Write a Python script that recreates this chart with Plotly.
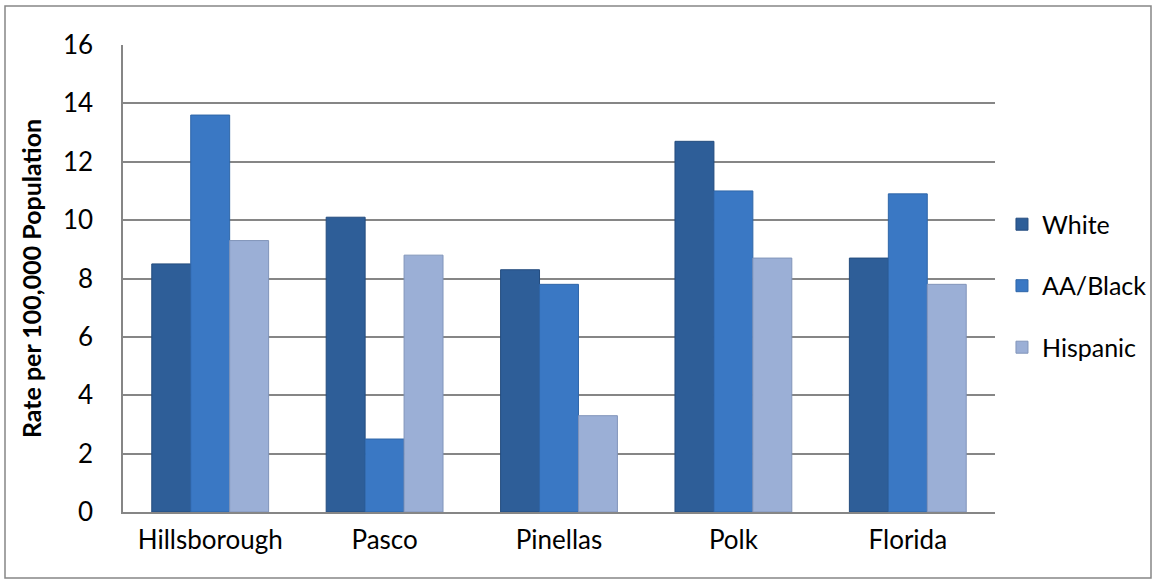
import plotly.graph_objects as go

categories = ["Hillsborough", "Pasco", "Pinellas", "Polk", "Florida"]
white = [8.5, 10.1, 8.3, 12.7, 8.7]
aa_black = [13.6, 2.5, 7.8, 11.0, 10.9]
hispanic = [9.3, 8.8, 3.3, 8.7, 7.8]
series_names = ["White", "AA/Black", "Hispanic"]
y_ticks = [0, 2, 4, 6, 8, 10, 12, 14, 16]

W, H = 1154, 580
ml, mr, mt, mb = 123, 159, 45, 68

colors = ["#2E5E98", "#3A78C4", "#9BAFD6"]
edges = ["#244C7E", "#2F66A8", "#8295BA"]

fig = go.Figure()
for i, (name, vals) in enumerate(zip(series_names, [white, aa_black, hispanic])):
    fig.add_trace(go.Bar(
        x=categories, y=vals, name=name,
        marker=dict(color=colors[i], line=dict(color=edges[i], width=1)),
        legendgroup=name,
    ))

font_family = "Lato, 'Open Sans', sans-serif"
fig.update_layout(
    width=W, height=H,
    margin=dict(l=ml, r=mr, t=mt, b=mb, autoexpand=False),
    paper_bgcolor="white", plot_bgcolor="white",
    barmode="group", bargap=0.33, bargroupgap=0,
    font=dict(family=font_family, size=26, color="#000000"),
    showlegend=True,
    legend=dict(x=1.008, xanchor="left", y=0.665, yanchor="top",
                font=dict(size=25), tracegroupgap=26,
                itemwidth=30, bgcolor="rgba(0,0,0,0)"),
    xaxis=dict(showline=True, linecolor="#868686", linewidth=1.5,
               ticks="", showgrid=False, tickfont=dict(size=26),
               ticklabelstandoff=4),
    yaxis=dict(range=[0, 16], tickvals=y_ticks, showline=True,
               linecolor="#868686", linewidth=1.5, showgrid=True,
               gridcolor="#868686", gridwidth=1.5, ticks="",
               tickfont=dict(size=26), ticklabelstandoff=23,
               zeroline=False,
               title=dict(text="<b>Rate per 100,000 Population</b>",
                          font=dict(size=25), standoff=14)),
)

# outer chart border
pw = W - ml - mr
ph = H - mt - mb
fig.add_shape(type="rect", xref="paper", yref="paper",
              x0=(5 - ml) / pw, x1=(1151 - ml) / pw,
              y0=(H - mb - 578) / ph, y1=(H - mb - 6) / ph,
              line=dict(color="#868686", width=1.5), fillcolor="rgba(0,0,0,0)",
              layer="below")

fig.write_html("out.html")
